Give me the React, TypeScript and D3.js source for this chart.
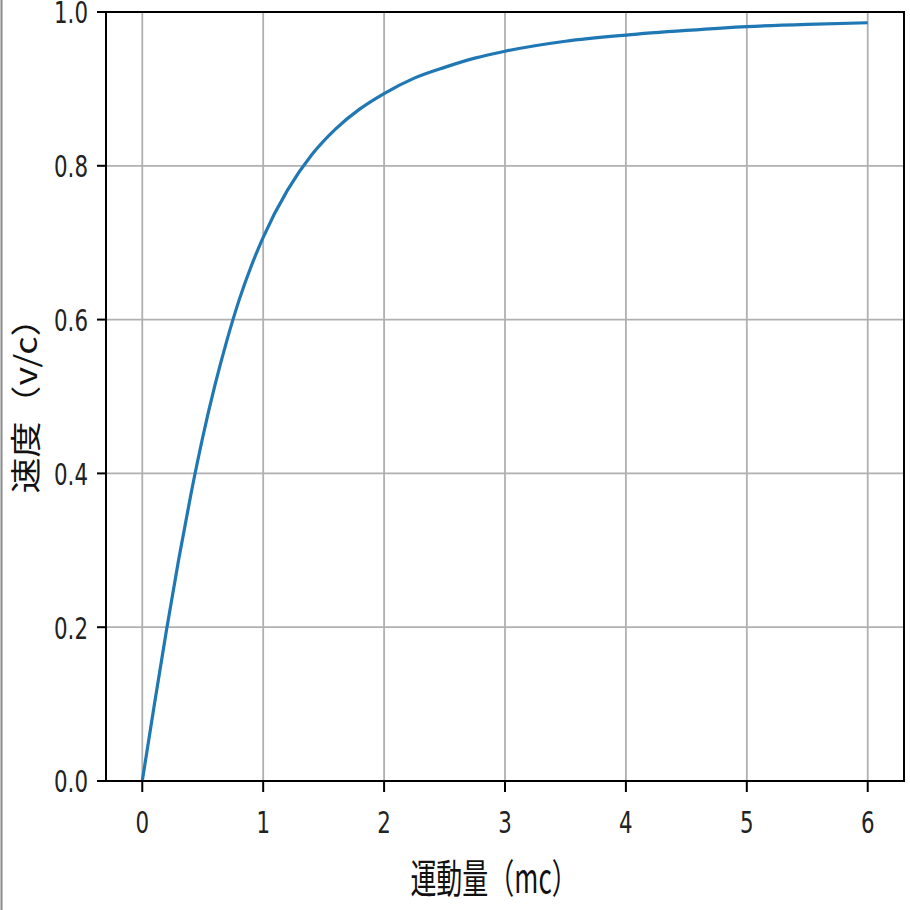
import React from "react";
import * as d3 from "d3";

const momentum = [0, 0.1, 0.2, 0.3, 0.4, 0.5, 0.6, 0.7, 0.8, 0.9, 1.0, 1.2, 1.4, 1.6, 1.8, 2.0, 2.25, 2.5, 2.75, 3.0, 3.5, 4.0, 4.5, 5.0, 5.5, 6.0];
const velocity = [0, 0.0995, 0.196, 0.287, 0.371, 0.447, 0.514, 0.573, 0.625, 0.669, 0.707, 0.768, 0.814, 0.848, 0.874, 0.894, 0.914, 0.928, 0.940, 0.949, 0.962, 0.970, 0.976, 0.981, 0.984, 0.986];
const xTicks = [0, 1, 2, 3, 4, 5, 6];
const yTicks = [0, 0.2, 0.4, 0.6, 0.8, 1.0];
const xLabel = "運動量（mc）";
const yLabel = "速度（v/c）";

const W = 910;
const H = 910;
const left = 106, right = 904, top = 12, bottom = 781;

export default function App() {
  const x = d3.scaleLinear().domain([-0.3, 6.3]).range([left, right]);
  const y = d3.scaleLinear().domain([0, 1]).range([bottom, top]);
  const pts = momentum.map((p, i) => [p, velocity[i]] as [number, number]);
  const line = d3
    .line<[number, number]>()
    .x((d) => x(d[0]))
    .y((d) => y(d[1]))
    .curve(d3.curveMonotoneX);

  const tickFont = "DejaVu Sans, sans-serif";
  const cjkFont = "'Noto Sans CJK JP', 'Noto Sans CJK SC', sans-serif";

  return (
    <div style={{ position: "fixed", left: 0, top: 0 }}>
      <svg width={W} height={H} style={{ display: "block", background: "#fff" }}>
        <rect x={0} y={0} width={W} height={H} fill="#fff" />
        <line x1={1.5} x2={1.5} y1={0} y2={H} stroke="#888" strokeWidth={2} />
        {/* grid */}
        {xTicks.map((t) => (
          <line key={"gx" + t} x1={x(t)} x2={x(t)} y1={top} y2={bottom} stroke="#b0b0b0" strokeWidth={1.8} />
        ))}
        {yTicks.map((t) => (
          <line key={"gy" + t} x1={left} x2={right} y1={y(t)} y2={y(t)} stroke="#b0b0b0" strokeWidth={1.8} />
        ))}
        {/* curve */}
        <path d={line(pts) || ""} fill="none" stroke="#1f77b4" strokeWidth={3.2} strokeLinecap="butt" />
        {/* frame */}
        <rect x={left} y={top} width={right - left} height={bottom - top} fill="none" stroke="#000" strokeWidth={2} />
        {/* x ticks */}
        {xTicks.map((t) => (
          <g key={"xt" + t}>
            <line x1={x(t)} x2={x(t)} y1={bottom} y2={bottom + 11} stroke="#000" strokeWidth={2} />
            <text
              transform={`translate(${x(t)},${833}) scale(0.69,1)`}
              textAnchor="middle"
              fontFamily={tickFont}
              fontSize={31}
              fill="#222"
            >
              {String(t)}
            </text>
          </g>
        ))}
        {/* y ticks */}
        {yTicks.map((t) => (
          <g key={"yt" + t}>
            <line x1={left - 9} x2={left} y1={y(t)} y2={y(t)} stroke="#000" strokeWidth={2} />
            <text
              transform={`translate(${88},${y(t) + 11.3}) scale(0.69,1)`}
              textAnchor="end"
              fontFamily={tickFont}
              fontSize={31}
              fill="#222"
            >
              {t.toFixed(1)}
            </text>
          </g>
        ))}
        {/* axis labels */}
        <text
          transform={`translate(${494},${876}) scale(0.65,1)`}
          textAnchor="middle"
          dominantBaseline="central"
          fontFamily={cjkFont}
          fontSize={40}
          fill="#111"
        >
          {xLabel}
        </text>
        <text
          transform={`translate(${24},${397}) scale(0.84,1) rotate(-90)`}
          textAnchor="middle"
          dominantBaseline="central"
          fontFamily={cjkFont}
          fontSize={36}
          fill="#111"
        >
          {yLabel}
        </text>
      </svg>
    </div>
  );
}
